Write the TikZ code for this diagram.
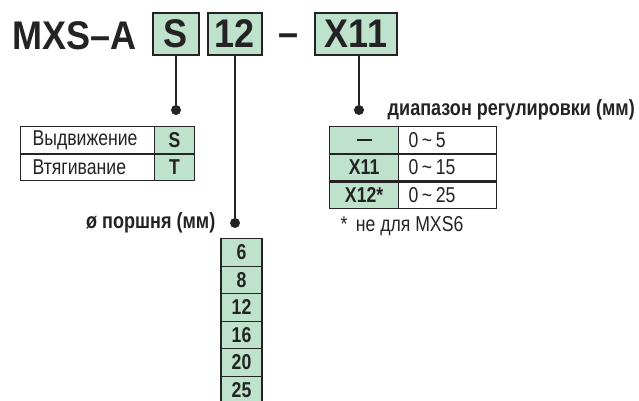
\documentclass[tikz,border=0pt]{standalone}
\usepackage{fontspec}
\setmainfont{Liberation Sans}[FakeStretch=0.9]
\newfontfamily\condfont{Liberation Sans}[FakeStretch=0.82]
\usetikzlibrary{positioning}
\definecolor{codegreen}{RGB}{190,226,204}
\definecolor{ink}{RGB}{35,35,35}

\begin{document}
\begin{tikzpicture}[x=1pt, y=-1pt,
        every node/.style={text=ink},
        codebox/.style={rectangle, draw=ink, line width=1.4pt, fill=codegreen, inner sep=0pt, minimum height=42pt, font=\bfseries\fontsize{40}{40}\selectfont},
        code/.style={rectangle, draw=ink, line width=1.2pt, fill=codegreen, inner sep=0pt, minimum height=26.5pt, font=\condfont\bfseries\fontsize{21.5}{21.5}\selectfont},
        cell/.style={rectangle, draw=ink, line width=1.2pt, fill=white, inner ysep=0pt, minimum height=26.5pt, align=left, font=\condfont\fontsize{21.5}{21.5}\selectfont},
        pin/.style={draw=ink, line width=1.3pt},
        dot/.style={circle, fill=ink, inner sep=0pt, minimum size=10pt},
        caption/.style={font=\condfont\bfseries\fontsize{22}{22}\selectfont}
    ]
        \useasboundingbox (0,0) rectangle (639,401);

        % Model code
        \node[anchor=base west, inner sep=0pt, font=\bfseries\fontsize{40}{40}\selectfont] (model) at (12,50) {MXS–A};
        \node[codebox, minimum width=46pt] (sbox) at (176,34) {S};
        \node[codebox, minimum width=54pt] (borebox) at (235,34) {12};
        \node[anchor=base, inner sep=0pt, font=\bfseries\fontsize{40}{40}\selectfont] (sep) at (289,47) {–};
        \node[codebox, minimum width=82pt] (rngbox) at (356,34) {X11};

        % Action
        \node[dot] (sdot) at (176,110) {};
        \node[cell, anchor=north west, text width=110pt, inner xsep=12pt] (ext) at (20,126) {Выдвижение};
        \node[code, anchor=north west, minimum width=40pt] (extS) at (154,126) {S};
        \node[cell, below=0pt of ext, text width=110pt, inner xsep=12pt] (ret) {Втягивание};
        \node[code, below=0pt of extS, minimum width=40pt] (retT) {T};

        % Stroke range
        \node[dot] (rngdot) at (359,110) {};
        \node[caption, right=20pt of rngdot] (rnglabel) {диапазон регулировки (мм)};
        \node[code, anchor=north west, minimum width=69pt] (rng0) at (329,126) {\rule{15pt}{2.2pt}};
        \node[cell, anchor=north west, text width=78pt, inner xsep=10pt] (val0) at (398,126) {0\,\textasciitilde\,5};
        \node[code, below=0pt of rng0, minimum width=69pt] (rng1) {X11};
        \node[cell, below=0pt of val0, text width=78pt, inner xsep=10pt] (val1) {0\,\textasciitilde\,15};
        \node[code, below=0pt of rng1, minimum width=69pt] (rng2) {X12*};
        \node[cell, below=0pt of val1, text width=78pt, inner xsep=10pt] (val2) {0\,\textasciitilde\,25};
        \node[anchor=west, font=\condfont\fontsize{21.5}{21.5}\selectfont] (note) at (337,226) {*\, не для MXS6};

        % Bore size
        \node[dot] (boredot) at (235,223) {};
        \node[caption, left=11pt of boredot] (borelabel) {ø поршня (мм)};
        \foreach \d [count=\i from 0] in {6,8,12,16,20,25}
            \node[code, anchor=north, minimum width=41pt, minimum height=27.5pt] (bore\i) at (241.5,{238+27.5*\i}) {\d};

        % Leaders
        \draw[pin] (sbox) -- (sdot);
        \draw[pin] (borebox) -- (boredot);
        \draw[pin] (rngbox.south -| rngdot) -- (rngdot);
    \end{tikzpicture}
\end{document}
